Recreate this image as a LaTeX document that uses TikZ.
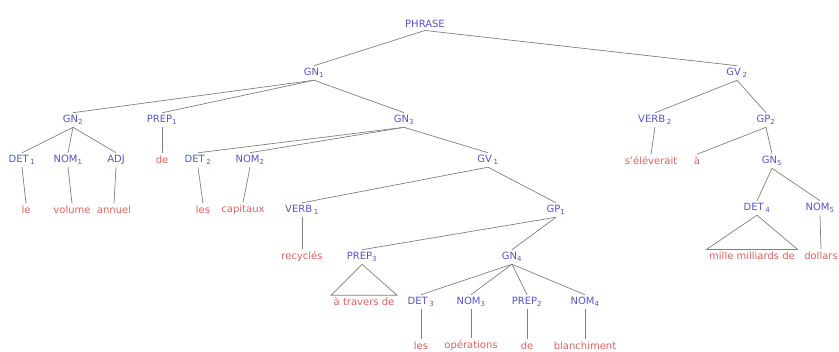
\documentclass[tikz,border=0pt]{standalone}
\usepackage{fontspec}
\setmainfont{DejaVu Sans}
\usepackage{tikz}
\usetikzlibrary{positioning}
\definecolor{catblue}{rgb}{0.33, 0.33, 0.82}
\definecolor{wordred}{rgb}{0.88, 0.38, 0.38}
\definecolor{branchgray}{rgb}{0.50, 0.50, 0.50}
\newcommand{\idx}[1]{\textsubscript{#1}}

\begin{document}
\begin{tikzpicture}[x=1pt,y=-1pt,
	cat/.style={text=catblue,font=\fontsize{10}{12}\selectfont,inner sep=2.5pt},
	word/.style={text=wordred,font=\fontsize{10}{12}\selectfont,inner sep=2.5pt},
	branch/.style={draw=branchgray,line width=0.7pt}]
	\useasboundingbox (0,0) rectangle (839,352);
	
	% categories
	\node[cat] (phrase) at (425,24) {PHRASE};
	\node[cat] (gn1) at (314,73) {GN\idx{1}};
	\node[cat] (gv2) at (737,73) {GV\,\idx{2}};
	
	\node[cat] (gn2) at (73,120) {GN\idx{2}};
	\node[cat] (prep1) at (162,120) {PREP\idx{1}};
	\node[cat] (gn3) at (404,120) {GN\idx{3}};
	\node[cat] (verb2) at (655,120) {VERB\,\idx{2}};
	\node[cat] (gp2) at (766,120) {GP\idx{2}};
	
	\node[cat] (det1) at (22,160) {DET\,\idx{1}};
	\node[cat] (nom1) at (68,160) {NOM\idx{1}};
	\node[cat] (adj) at (116,160) {ADJ};
	\node[cat] (det2) at (198,160) {DET\,\idx{2}};
	\node[cat] (nom2) at (250,160) {NOM\idx{2}};
	\node[cat] (gv1) at (488,160) {GV\,\idx{1}};
	\node[cat] (gn5) at (772,161) {GN\idx{5}};
	
	\node[cat] (verb1) at (302,210) {VERB\,\idx{1}};
	\node[cat] (gp1) at (556,210) {GP\idx{1}};
	\node[cat] (det4) at (757,208) {DET\,\idx{4}};
	\node[cat] (nom5) at (820,208) {NOM\idx{5}};
	
	\node[cat] (prep3) at (362,257) {PREP\idx{3}};
	\node[cat] (gn4) at (512,257) {GN\idx{4}};
	
	\node[cat] (det3) at (421,302) {DET\,\idx{3}};
	\node[cat] (nom3) at (471,302) {NOM\idx{3}};
	\node[cat] (prep2) at (527,302) {PREP\idx{2}};
	\node[cat] (nom4) at (585,302) {NOM\idx{4}};
	
	% words
	\node[word] (de1) at (162,160) {de};
	\node[word] (le) at (26,210) {le};
	\node[word] (volume) at (72,210) {volume};
	\node[word] (annuel) at (114,210) {annuel};
	\node[word] (les1) at (203,210) {les};
	\node[word] (capitaux) at (243,210) {capitaux};
	\node[word] (eleve) at (651,161) {s'éléverait};
	\node[word] (a) at (697,161) {à};
	\node[word] (recycles) at (302,257) {recyclés};
	\node[word] (mille) at (752,256) {mille milliards de};
	\node[word] (dollars) at (821,256) {dollars};
	\node[word] (atravers) at (364,302) {à travers de};
	\node[word] (les2) at (421,346) {les};
	\node[word] (operations) at (471,346) {opérations};
	\node[word] (de2) at (527,346) {de};
	\node[word] (blanch) at (585,346) {blanchiment};
	
	% branches
	\foreach \p/\c in {phrase/gn1, phrase/gv2,
		gn1/gn2, gn1/prep1, gn1/gn3,
		gn2/det1, gn2/nom1, gn2/adj, prep1/de1,
		det1/le, nom1/volume, adj/annuel,
		gn3/det2, gn3/nom2, gn3/gv1, det2/les1, nom2/capitaux,
		gv1/verb1, gv1/gp1, verb1/recycles,
		gp1/prep3, gp1/gn4,
		gn4/det3, gn4/nom3, gn4/prep2, gn4/nom4,
		det3/les2, nom3/operations, prep2/de2, nom4/blanch,
		gv2/verb2, gv2/gp2, verb2/eleve, gp2/a, gp2/gn5,
		gn5/det4, gn5/nom5, nom5/dollars}
		\draw[branch] (\p.south) -- (\c.north);
	
	% roof triangles
	\draw[branch] (prep3.south) -- (atravers.north west) -- (atravers.north east) -- cycle;
	\draw[branch] (det4.south) -- (mille.north west) -- (mille.north east) -- cycle;
\end{tikzpicture}
\end{document}
